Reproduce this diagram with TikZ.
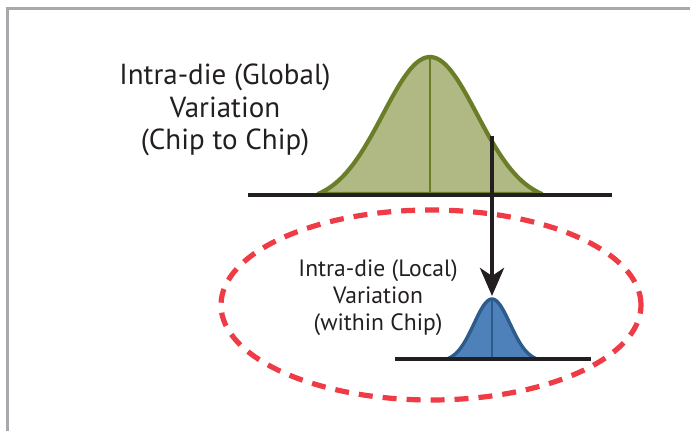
\documentclass[tikz,border=0pt]{standalone}
\usepackage{fontspec}
\setmainfont{PT Sans}
\usetikzlibrary{arrows.meta}

\definecolor{globalfill}{HTML}{B0B984}
\definecolor{globalline}{HTML}{6A7D27}
\definecolor{localfill}{HTML}{4E80BA}
\definecolor{localline}{HTML}{2D5B8C}
\definecolor{ringred}{HTML}{EE3B45}
\definecolor{framegray}{HTML}{A7A9AC}
\definecolor{ink}{HTML}{231F20}

\begin{document}
\begin{tikzpicture}[
        x=0.5pt, y=-0.5pt,
        bigtext/.style={
            text=ink,
            align=center,
            font=\fontsize{14.5}{16.2}\selectfont
        },
        smalltext/.style={
            text=ink,
            align=center,
            font=\fontsize{11.8}{13.5}\selectfont
        },
        axis/.style={draw=ink, line width=2pt},
        globalbell/.style={draw=globalline, fill=globalfill, line width=2.1pt, line join=round},
        localbell/.style={draw=localline, fill=localfill, line width=1.7pt, line join=round},
        ring/.style={draw=ringred, line width=2.6pt, dash pattern=on 7pt off 5pt},
        drop/.style={draw=ink, line width=2.4pt, -{Stealth[length=14pt, width=12pt, inset=4pt]}}
    ]
        \useasboundingbox (0,0) rectangle (690,431);
        \draw[framegray, line width=1.5pt] (7,431) -- (7,9) -- (690,9);

        % Curves
        \draw[globalbell] plot[domain=-112:112, samples=80]
            ({430+\x}, {194-137*(exp(-\x*\x/4418)-0.0585)/0.9415}) -- cycle;
        \draw[globalline, line width=1pt] (430,57) -- (430,194);
        \draw[localbell] plot[domain=-45:45, samples=50]
            ({492+\x}, {359-60*(exp(-\x*\x/648)-0.0439)/0.9561}) -- cycle;
        \draw[localline, line width=0.8pt] (492,299) -- (492,359);

        % Axes
        \draw[axis] (248,195) -- (612,195);
        \draw[axis] (395,359) -- (591,359);

        % Ellipse
        \draw[ring] (431,305) ellipse [x radius=105pt, y radius=47.5pt];

        % Nodes
        \node[bigtext] (global) at (225,110) {Intra-die (Global)\\Variation\\(Chip to Chip)};
        \node[smalltext] (local) at (378,298) {Intra-die (Local)\\Variation\\(within Chip)};
        \coordinate (gtail) at (492,136);
        \coordinate (bpeak) at (492,296);

        % Paths
        \path[drop] (gtail) -- (bpeak);
    \end{tikzpicture}
\end{document}
